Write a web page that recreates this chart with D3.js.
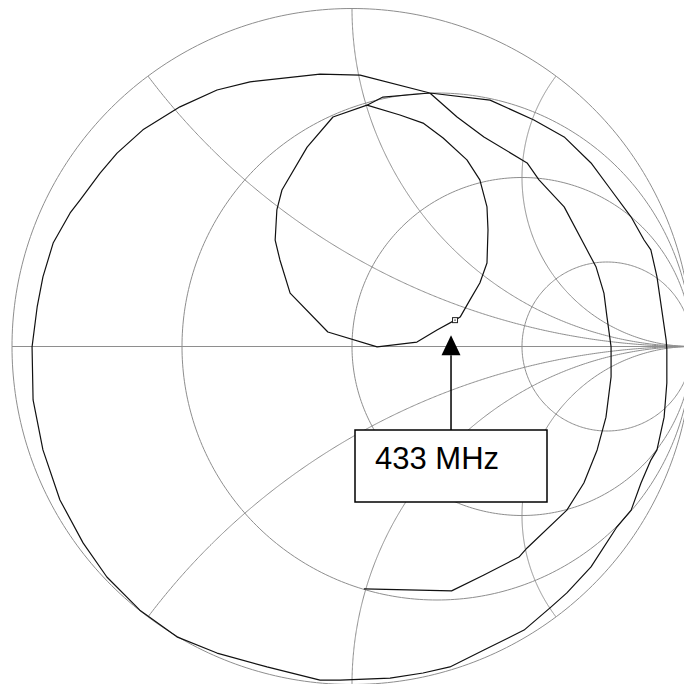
<!DOCTYPE html>
<html>
<head>
<meta charset="utf-8">
<script src="https://cdn.jsdelivr.net/npm/d3@7"></script>
<style>
html,body{margin:0;padding:0;background:#fff;}
svg{display:block;}
</style>
</head>
<body>
<svg id="chart" width="684" height="684"></svg>
<script>
// ---- Data (reflection coefficient Γ, real / imaginary) ----
const resistanceCircles = [0, 1/3, 1, 3];
const reactanceArcs = [0.5, 1, 2, -0.5, -1, -2];

const traceRe = [0.035,0.293,0.388,0.491,0.515,0.632,0.682,0.721,0.747,0.762,0.762,0.750,0.741,0.718,0.691,0.624,0.550,0.515,0.388,0.309,0.229,
  0.024,-0.094,-0.300,-0.397,-0.506,-0.615,-0.691,-0.741,-0.800,-0.829,-0.879,-0.909,-0.926,-0.941,-0.938,-0.909,-0.859,-0.791,-0.721,-0.624,-0.515,-0.397,-0.250,-0.094,-0.035,
  0.112,0.209,0.288,0.388,0.506,0.585,0.632,0.703,0.779,0.821,0.850,0.879,0.897,0.918,0.926,0.926,0.924,0.897,0.879,0.859,0.821,0.762,0.703,0.624,0.535,0.406,0.229,0.091,0.044,
  -0.056,-0.132,-0.206,-0.221,-0.226,-0.212,-0.182,-0.071,0.074,0.191,0.250,0.303,
  0.318,0.347,0.376,0.397,0.400,0.397,0.376,0.338,0.268,0.209,0.141,0.044];
const traceIm = [-0.717,-0.723,-0.676,-0.623,-0.596,-0.484,-0.404,-0.306,-0.209,-0.090,-0.001,0.087,0.158,0.235,0.286,0.413,0.493,0.543,0.620,0.679,0.750,
  0.803,0.806,0.783,0.759,0.709,0.641,0.572,0.513,0.433,0.395,0.306,0.206,0.117,-0.001,-0.158,-0.306,-0.454,-0.581,-0.682,-0.780,-0.859,-0.907,-0.948,-0.987,-0.987,
  -0.981,-0.966,-0.948,-0.898,-0.839,-0.771,-0.729,-0.652,-0.534,-0.484,-0.404,-0.336,-0.306,-0.209,-0.108,-0.010,0.019,0.206,0.286,0.315,0.383,0.463,0.543,0.620,0.670,0.729,0.750,0.738,0.714,
  0.679,0.590,0.463,0.404,0.315,0.256,0.158,0.043,-0.001,0.013,0.049,0.078,
  0.087,0.138,0.188,0.247,0.345,0.413,0.493,0.552,0.617,0.661,0.685,0.714];

const markerRe = [0.303];
const markerIm = [0.078];
const markerLabels = ["433 MHz"];

// ---- Layout ----
const W = 684, H = 684;
const cx = 352, cy = 346.5, Rx = 340, Ry = 338;
const x = d3.scaleLinear().domain([-1, 1]).range([cx - Rx, cx + Rx]);
const y = d3.scaleLinear().domain([-1, 1]).range([cy + Ry, cy - Ry]);

const svg = d3.select("#chart");
const gridColor = "#8e8e8e";
const line = d3.line().x(d => x(d[0])).y(d => y(d[1]));

// resistance circles
const gGrid = svg.append("g").attr("fill", "none").attr("stroke", gridColor).attr("stroke-width", 1);
resistanceCircles.forEach(r => {
  const c = r / (1 + r), rad = 1 / (1 + r);
  const pts = d3.range(0, 361).map(a => {
    const t = a * Math.PI / 180;
    return [c + rad * Math.cos(t), rad * Math.sin(t)];
  });
  gGrid.append("path").attr("d", line(pts));
});
// reactance arcs
reactanceArcs.forEach(xv => {
  const pts = d3.range(0, 400).map(i => {
    const th = (i / 400) * (Math.PI / 2 - 0.0005);
    const r = Math.tan(th);
    const d = (r + 1) * (r + 1) + xv * xv;
    return [(r * r - 1 + xv * xv) / d, 2 * xv / d];
  });
  pts.push([1, 0]);
  gGrid.append("path").attr("d", line(pts));
});
// real axis
gGrid.append("line")
  .attr("x1", x(-1)).attr("x2", W)
  .attr("y1", y(0)).attr("y2", y(0));

// ---- trace ----
const trace = traceRe.map((v, i) => [v, traceIm[i]]);
svg.append("path")
  .attr("d", line(trace))
  .attr("fill", "none")
  .attr("stroke", "#111")
  .attr("stroke-width", 1.2)
  .attr("stroke-linejoin", "round");

// ---- marker ----
markerRe.forEach((mr, i) => {
  const mx = x(mr), my = y(markerIm[i]);
  svg.append("rect").attr("x", mx - 2.5).attr("y", my - 2.5).attr("width", 5).attr("height", 5)
    .attr("fill", "#fff").attr("stroke", "#222").attr("stroke-width", 1);
  svg.append("circle").attr("cx", mx).attr("cy", my).attr("r", 0.8).attr("fill", "#555");

  // annotation: arrow + box
  const ax = mx - 4;
  const tipY = my + 15, baseY = tipY + 20;
  const boxX = 355, boxY = 430, boxW = 192, boxH = 72;
  svg.append("line").attr("x1", ax).attr("x2", ax).attr("y1", baseY).attr("y2", boxY)
    .attr("stroke", "#000").attr("stroke-width", 1.5);
  svg.append("path")
    .attr("d", `M${ax},${tipY} L${ax - 9.5},${baseY} L${ax + 9.5},${baseY} Z`)
    .attr("fill", "#000");
  svg.append("rect").attr("x", boxX).attr("y", boxY).attr("width", boxW).attr("height", boxH)
    .attr("fill", "#fff").attr("stroke", "#000").attr("stroke-width", 1.5);
  svg.append("text").attr("x", boxX + 20).attr("y", boxY + 38.5)
    .attr("font-family", "Liberation Sans, Arial, sans-serif")
    .attr("font-size", 31).attr("fill", "#000")
    .text(markerLabels[i]);
});
</script>
</body>
</html>
